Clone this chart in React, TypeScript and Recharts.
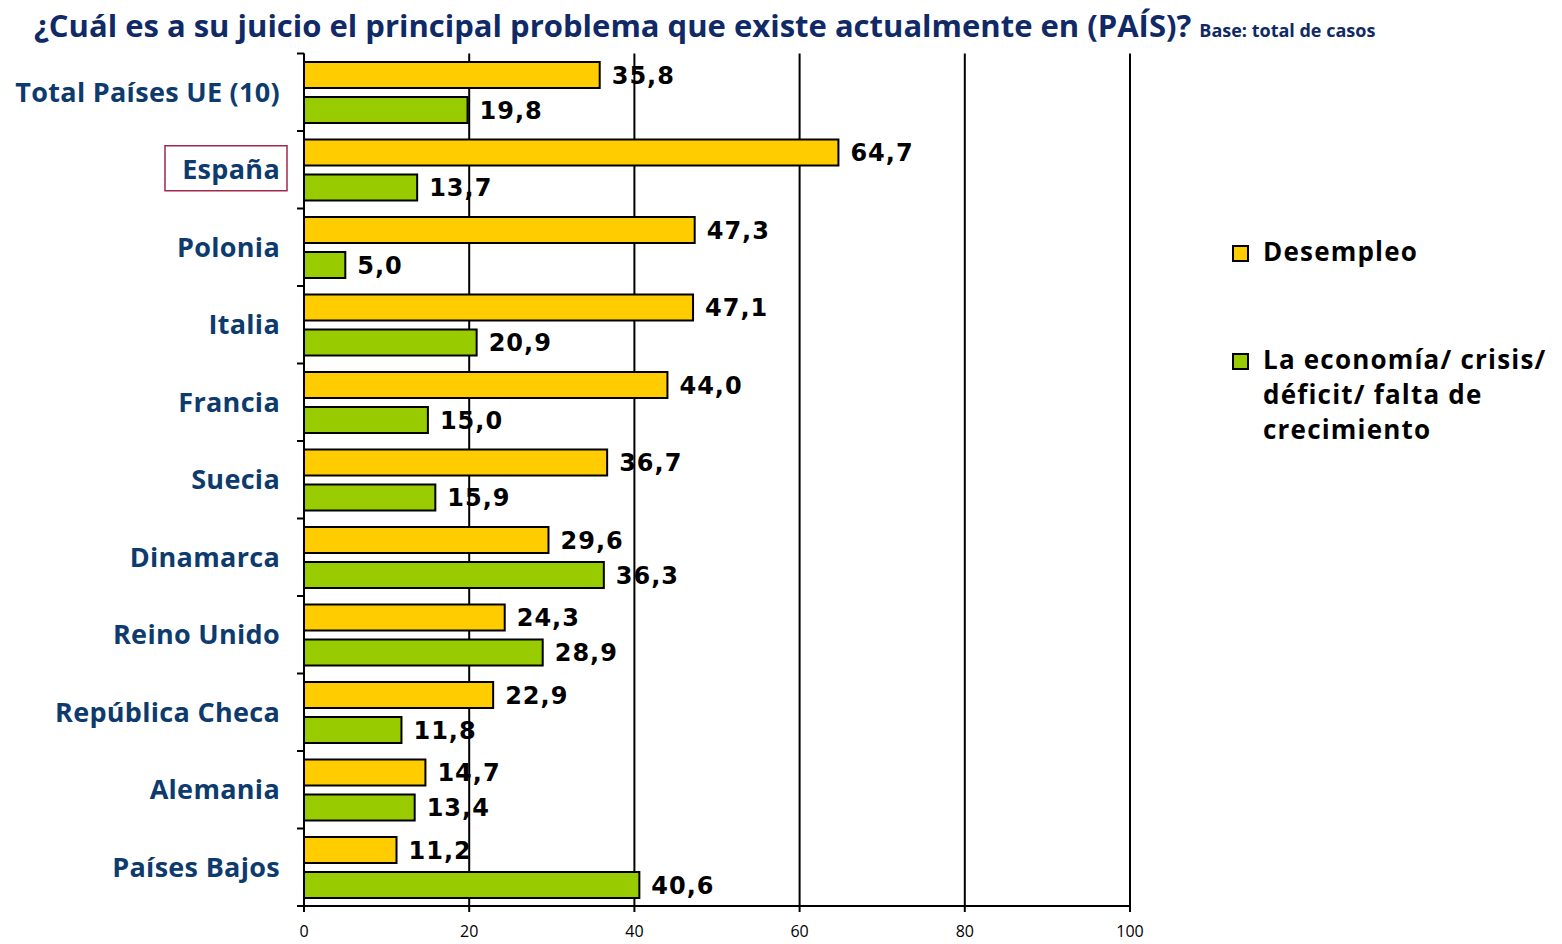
import { BarChart, Bar, XAxis, YAxis, CartesianGrid, LabelList } from "recharts";

const countries = [
  "Total Países UE (10)",
  "España",
  "Polonia",
  "Italia",
  "Francia",
  "Suecia",
  "Dinamarca",
  "Reino Unido",
  "República Checa",
  "Alemania",
  "Países Bajos",
];
const desempleo = [35.8, 64.7, 47.3, 47.1, 44.0, 36.7, 29.6, 24.3, 22.9, 14.7, 11.2];
const economia = [19.8, 13.7, 5.0, 20.9, 15.0, 15.9, 36.3, 28.9, 11.8, 13.4, 40.6];
const xTicks = [0, 20, 40, 60, 80, 100];
const seriesNames = ["Desempleo", "La economía/ crisis/ déficit/ falta de crecimiento"];
const COLORS = ["#FFCC00", "#99CC00"];

const data = countries.map((name, i) => ({
  name,
  desempleo: desempleo[i],
  economia: economia[i],
}));

const W = 1562;
const H = 944;
const TOP = 53.5;
const PLOT_BOTTOM = 906;
const BAND = (PLOT_BOTTOM - TOP) / countries.length;
const LABEL_BLUE = "#0D3B6E";

const fmt = (v: any) => Number(v).toFixed(1).replace(".", ",");

function CountryTick(props: any) {
  const { y, payload, index } = props;
  const axisX = 304;
  const isSpain = payload.value === "España";
  return (
    <g>
      {isSpain && (
        <rect x={165} y={y - 24} width={122} height={45} fill="none" stroke="#A0284C" strokeWidth={1.5} />
      )}
      <text
        x={280}
        y={y}
        dy="0.36em"
        textAnchor="end"
        fill={LABEL_BLUE}
        fontFamily="'Open Sans', sans-serif"
        fontWeight={700}
        fontSize={27}
        letterSpacing={0.3}
      >
        {payload.value}
      </text>
      <line x1={axisX - 7} x2={axisX} y1={y - BAND / 2} y2={y - BAND / 2} stroke="#000" strokeWidth={2} />
      {index === countries.length - 1 && (
        <line x1={axisX - 7} x2={axisX} y1={y + BAND / 2} y2={y + BAND / 2} stroke="#000" strokeWidth={2} />
      )}
    </g>
  );
}

export default function App() {
  return (
    <div style={{ position: "absolute", left: 0, top: 0, width: W, height: H, background: "#fff" }}>
      <div
        style={{
          position: "absolute",
          left: 34,
          top: 3,
          whiteSpace: "nowrap",
          color: "#0F2A66",
          fontFamily: "'Open Sans', sans-serif",
          fontWeight: 700,
          fontSize: 31,
          lineHeight: "44px",
        }}
      >
        ¿Cuál es a su juicio el principal problema que existe actualmente en (PAÍS)?{" "}
        <span style={{ fontSize: 18 }}>Base: total de casos</span>
      </div>

      <BarChart
        width={W}
        height={H}
        data={data}
        layout="vertical"
        margin={{ top: TOP, right: 432, bottom: 8, left: 4 }}
        barCategoryGap={8.5}
        barGap={9}
      >
        <CartesianGrid horizontal={false} stroke="#000" strokeWidth={2} />
        <XAxis
          type="number"
          domain={[0, 100]}
          ticks={xTicks}
          height={30}
          axisLine={{ stroke: "#000", strokeWidth: 2 }}
          tickLine={{ stroke: "#000", strokeWidth: 2 }}
          tickSize={6}
          tickMargin={14}
          tick={{ fill: "#000", fontSize: 16, fontFamily: "'Open Sans', sans-serif" }}
        />
        <YAxis
          type="category"
          dataKey="name"
          width={300}
          axisLine={{ stroke: "#000", strokeWidth: 2 }}
          tickLine={false}
          tick={<CountryTick />}
          interval={0}
        />
        <Bar dataKey="desempleo" name={seriesNames[0]} fill={COLORS[0]} stroke="#000" strokeWidth={2} isAnimationActive={false}>
          <LabelList
            dataKey="desempleo"
            position="right"
            offset={12}
            formatter={fmt}
            fill="#000"
            fontFamily="'DejaVu Sans', sans-serif"
            fontWeight={700}
            fontSize={24}
            letterSpacing={1}
          />
        </Bar>
        <Bar dataKey="economia" name={seriesNames[1]} fill={COLORS[1]} stroke="#000" strokeWidth={2} isAnimationActive={false}>
          <LabelList
            dataKey="economia"
            position="right"
            offset={12}
            formatter={fmt}
            fill="#000"
            fontFamily="'DejaVu Sans', sans-serif"
            fontWeight={700}
            fontSize={24}
            letterSpacing={1}
          />
        </Bar>
      </BarChart>

      <div
        style={{
          position: "absolute",
          left: 1232,
          top: 234,
          width: 330,
          fontFamily: "'Open Sans', sans-serif",
          fontWeight: 700,
          fontSize: 26,
          letterSpacing: 1.2,
          lineHeight: "35px",
          color: "#000",
        }}
      >
        {seriesNames.map((s, i) => (
          <div key={s} style={{ display: "flex", alignItems: "flex-start", marginBottom: i === 0 ? 73 : 0 }}>
            <span
              style={{
                display: "inline-block",
                width: 13,
                height: 13,
                marginTop: 11,
                marginRight: 14,
                background: COLORS[i],
                border: "2px solid #000",
                flexShrink: 0,
              }}
            />
            <span style={{ width: 300 }}>{s}</span>
          </div>
        ))}
      </div>
    </div>
  );
}
